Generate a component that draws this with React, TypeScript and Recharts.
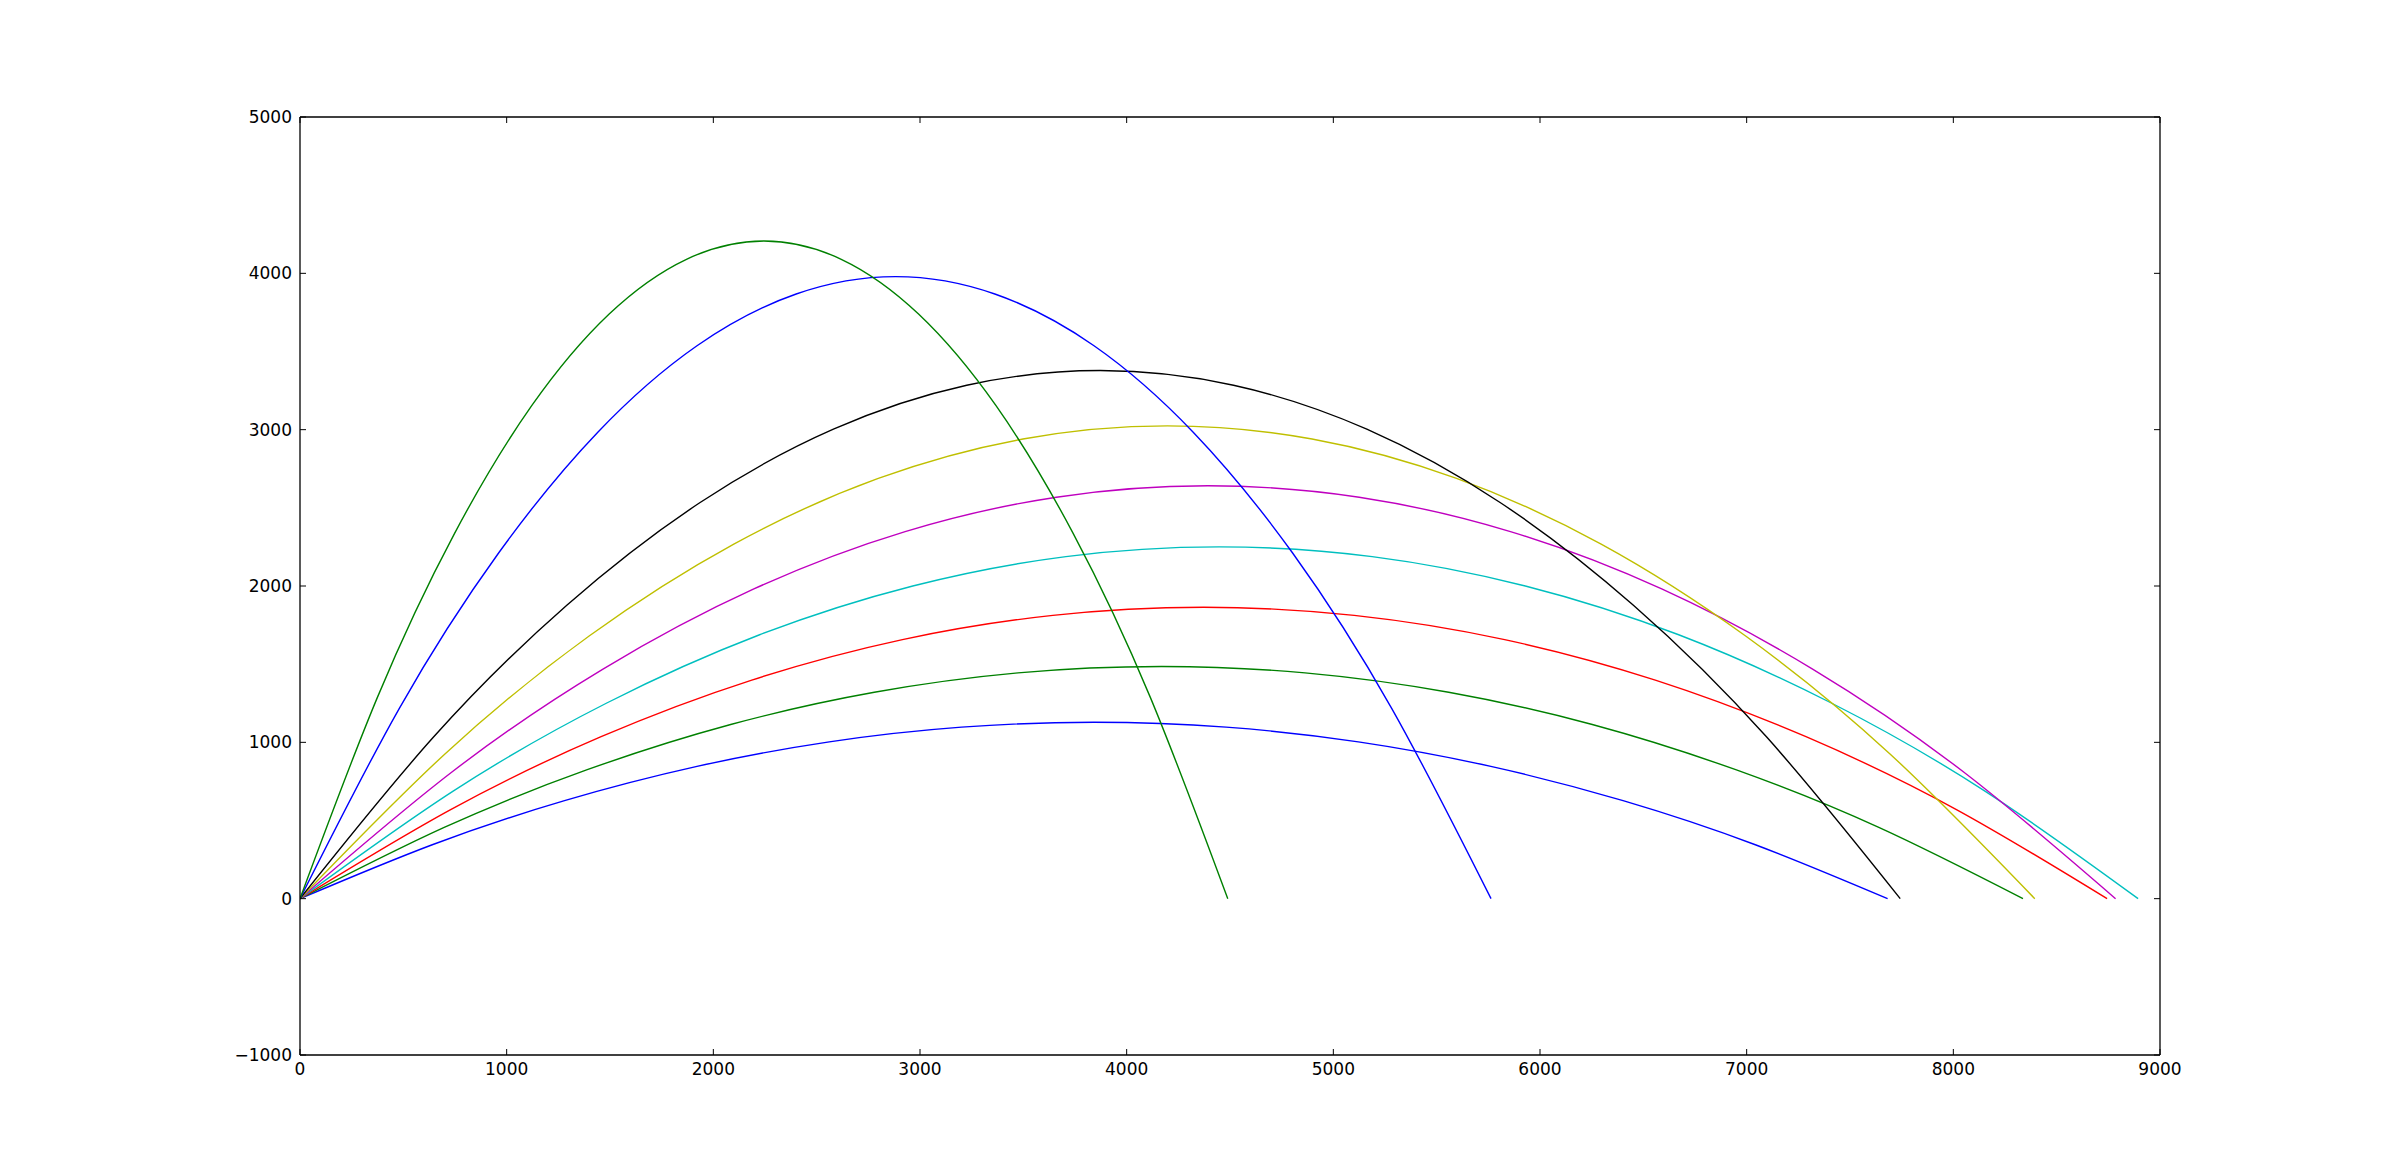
import { LineChart, Line, XAxis, YAxis } from 'recharts';

// trajectories: [range, height] pairs, evenly spaced along each arc
const blueLow: [number, number][] = [
  [0, 0], [640, 345], [1280, 627], [1921, 846], [2561, 1003], [3201, 1097], [3841, 1128],
  [4481, 1097], [5121, 1003], [5762, 846], [6402, 627], [7042, 345], [7682, 0],
];
const greenLow: [number, number][] = [
  [0, 0], [695, 454], [1390, 825], [2084, 1114], [2779, 1320], [3474, 1444], [4169, 1485],
  [4863, 1444], [5558, 1320], [6253, 1114], [6947, 825], [7642, 454], [8337, 0],
];
const red: [number, number][] = [
  [0, 0], [729, 570], [1457, 1036], [2186, 1398], [2915, 1657], [3643, 1812], [4372, 1864],
  [5101, 1812], [5829, 1657], [6558, 1398], [7287, 1036], [8015, 570], [8744, 0],
];
const cyan: [number, number][] = [
  [0, 0], [741, 688], [1482, 1250], [2224, 1688], [2965, 2000], [3706, 2188], [4447, 2250],
  [5188, 2188], [5929, 2000], [6671, 1688], [7412, 1250], [8153, 688], [8894, 0],
];
const magenta: [number, number][] = [
  [0, 0], [732, 807], [1464, 1467], [2196, 1981], [2928, 2348], [3660, 2568], [4393, 2641],
  [5125, 2568], [5857, 2348], [6589, 1981], [7321, 1467], [8053, 807], [8785, 0],
];
const yellow: [number, number][] = [
  [0, 0], [700, 924], [1399, 1680], [2099, 2268], [2798, 2688], [3498, 2940], [4197, 3024],
  [4897, 2940], [5596, 2688], [6296, 2268], [6995, 1680], [7695, 924], [8394, 0],
];
const black: [number, number][] = [
  [0, 0], [645, 1032], [1291, 1877], [1936, 2534], [2581, 3003], [3226, 3284], [3872, 3378],
  [4517, 3284], [5162, 3003], [5807, 2534], [6452, 1877], [7098, 1032], [7743, 0],
];
const blueHigh: [number, number][] = [
  [0, 0], [480, 1216], [961, 2211], [1441, 2984], [1921, 3537], [2401, 3868], [2882, 3979],
  [3362, 3868], [3842, 3537], [4322, 2984], [4803, 2211], [5283, 1216], [5763, 0],
];
const greenHigh: [number, number][] = [
  [0, 0], [374, 1286], [748, 2337], [1122, 3155], [1496, 3740], [1870, 4090], [2245, 4207],
  [2619, 4090], [2993, 3740], [3367, 3155], [3741, 2337], [4115, 1286], [4489, 0],
];

const xTicks = [0, 1000, 2000, 3000, 4000, 5000, 6000, 7000, 8000, 9000];
const yTicks = [-1000, 0, 1000, 2000, 3000, 4000, 5000];

// matplotlib classic colour cycle, in plotting order
const series = [
  { name: 'blueLow', color: '#0000ff', pts: blueLow },
  { name: 'greenLow', color: '#008000', pts: greenLow },
  { name: 'red', color: '#ff0000', pts: red },
  { name: 'cyan', color: '#00bfbf', pts: cyan },
  { name: 'magenta', color: '#bf00bf', pts: magenta },
  { name: 'yellow', color: '#bfbf00', pts: yellow },
  { name: 'black', color: '#000000', pts: black },
  { name: 'blueHigh', color: '#0000ff', pts: blueHigh },
  { name: 'greenHigh', color: '#008000', pts: greenHigh },
];

const FONT = "'DejaVu Sans', sans-serif";
const TICK = 6;

const fmt = (v: number) => (v < 0 ? '\u2212' + Math.abs(v) : String(v));

const BottomTick = ({ x, y, payload }: any) => (
  <g>
    <line x1={x} y1={y} x2={x} y2={y - TICK} stroke="#000" strokeWidth={1} />
    <text x={x} y={y + 20} textAnchor="middle" fontSize={17} fontFamily={FONT} fill="#000">
      {fmt(payload.value)}
    </text>
  </g>
);

const TopTick = ({ x, y }: any) => (
  <line x1={x} y1={y} x2={x} y2={y + TICK} stroke="#000" strokeWidth={1} />
);

const LeftTick = ({ x, y, payload }: any) => (
  <g>
    <line x1={x} y1={y} x2={x + TICK} y2={y} stroke="#000" strokeWidth={1} />
    <text x={x - 8} y={y + 6} textAnchor="end" fontSize={17} fontFamily={FONT} fill="#000">
      {fmt(payload.value)}
    </text>
  </g>
);

const RightTick = ({ x, y }: any) => (
  <line x1={x} y1={y} x2={x - TICK} y2={y} stroke="#000" strokeWidth={1} />
);

const axisStyle = { stroke: '#000', strokeWidth: 1.3 };

export default function App() {
  return (
    <div style={{ position: 'absolute', left: 0, top: 0, width: 2400, height: 1172, background: '#fff' }}>
      <LineChart width={2400} height={1172} margin={{ top: 116, right: 239, bottom: 116, left: 299 }}>
        <XAxis
          type="number"
          dataKey="x"
          domain={[0, 9000]}
          ticks={xTicks}
          allowDataOverflow
          height={1}
          tickSize={0}
          tickMargin={0}
          tickLine={false}
          axisLine={axisStyle}
          tick={<BottomTick />}
          interval={0}
        />
        <XAxis
          xAxisId="top"
          orientation="top"
          type="number"
          dataKey="x"
          domain={[0, 9000]}
          ticks={xTicks}
          allowDataOverflow
          height={1}
          tickSize={0}
          tickMargin={0}
          tickLine={false}
          axisLine={axisStyle}
          tick={<TopTick />}
          interval={0}
        />
        <YAxis
          type="number"
          domain={[-1000, 5000]}
          ticks={yTicks}
          allowDataOverflow
          width={1}
          tickSize={0}
          tickMargin={0}
          tickLine={false}
          axisLine={axisStyle}
          tick={<LeftTick />}
          interval={0}
        />
        <YAxis
          yAxisId="right"
          orientation="right"
          type="number"
          domain={[-1000, 5000]}
          ticks={yTicks}
          allowDataOverflow
          width={1}
          tickSize={0}
          tickMargin={0}
          tickLine={false}
          axisLine={axisStyle}
          tick={<RightTick />}
          interval={0}
        />
        {series.map((s) => (
          <Line
            key={s.name}
            data={s.pts.map(([x, y]) => ({ x, y }))}
            dataKey="y"
            type="natural"
            stroke={s.color}
            strokeWidth={1.4}
            dot={false}
            activeDot={false}
            isAnimationActive={false}
          />
        ))}
      </LineChart>
    </div>
  );
}
